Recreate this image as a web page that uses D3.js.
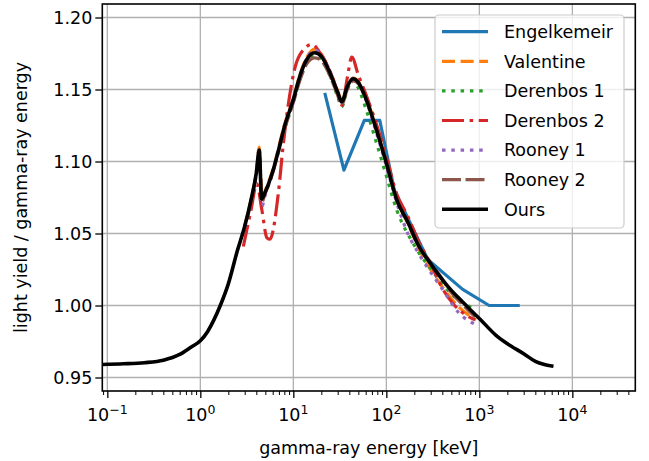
<!DOCTYPE html>
<html>
<head>
<meta charset="utf-8">
<script src="https://cdn.jsdelivr.net/npm/d3@7"></script>
<style>
  body { margin: 0; background: #fff; }
  svg { display: block; }
  text { font-family: "DejaVu Sans", sans-serif; fill: #000; }
</style>
</head>
<body>
<svg id="chart" width="649" height="461"></svg>
<script>
// Relative light yield (per unit gamma-ray energy) versus gamma-ray energy in keV.
const seriesNames = ["Engelkemeir", "Valentine", "Derenbos 1", "Derenbos 2", "Rooney 1", "Rooney 2", "Ours"];

const engelkemeir = [[22,1.1465],[35,1.094],[58,1.1286],[85,1.1286],[122,1.080],[279,1.032],[662,1.0112],[1275,1.000],[2614,1.000]];

const valentine = [[3.0,1.055],[3.5,1.073],[4.0,1.093],[4.3,1.110],[4.6,1.075],[5,1.080],[6,1.094],[8,1.125],[10,1.144],[12,1.162],[14,1.1725],[17,1.178],[20,1.1745],[25,1.162],[30,1.149],[33.2,1.142],[38,1.152],[44,1.158],[50,1.1555],[60,1.145],[80,1.121],[100,1.099],[130,1.073],[170,1.057],[230,1.038],[320,1.022],[410,1.012],[600,0.999],[920,0.990]];

const derenbos1 = [[6,1.093],[7,1.108],[8,1.122],[10,1.141],[12,1.159],[14,1.169],[17,1.174],[20,1.171],[25,1.159],[30,1.145],[33.2,1.138],[38,1.150],[44,1.1565],[50,1.151],[60,1.137],[80,1.111],[100,1.090],[130,1.066],[195,1.043],[320,1.023],[500,1.008],[828,0.9985]];

const derenbos2 = [[2.9,1.041],[3.5,1.066],[4.04,1.0845],[4.6,1.066],[5.2,1.047],[5.6,1.046],[6.9,1.078],[7.8,1.112],[10.4,1.165],[13,1.178],[15.8,1.1813],[20,1.174],[25,1.162],[30,1.148],[33.5,1.139],[38,1.158],[42.5,1.1725],[50,1.160],[60,1.147],[80,1.124],[100,1.103],[130,1.077],[170,1.062],[220,1.045],[300,1.029],[400,1.012],[525,1.001],[732,0.993],[900,0.990]];

const rooney1 = [[3.0,1.054],[3.5,1.072],[4.0,1.091],[4.3,1.106],[4.6,1.069],[5,1.077],[6,1.092],[8,1.123],[10,1.143],[14,1.172],[17,1.1775],[20,1.174],[25,1.162],[30,1.148],[33.2,1.141],[38,1.152],[44,1.158],[50,1.155],[60,1.143],[80,1.118],[100,1.097],[130,1.071],[170,1.050],[230,1.0347],[410,1.0104],[600,0.995],[900,0.987]];

const rooney2 = [[3.2,1.060],[3.5,1.072],[4.0,1.091],[4.3,1.106],[4.6,1.072],[5,1.078],[6,1.092],[8,1.122],[10,1.141],[12,1.158],[14,1.168],[17,1.172],[20,1.170],[25,1.159],[30,1.146],[33.2,1.1395],[38,1.150],[44,1.156],[50,1.154],[60,1.144],[80,1.120],[100,1.099],[130,1.074],[170,1.058],[270,1.033],[375,1.021],[500,1.009],[700,0.999],[900,0.992]];

const ours = [[0.0883,0.9590],[0.15,0.9595],[0.25,0.9603],[0.4,0.9620],[0.6,0.9660],[0.8,0.9712],[1.0,0.9755],[1.2,0.9820],[1.4,0.9900],[1.64,1.000],[2.0,1.015],[2.5,1.038],[3.0,1.055],[3.5,1.073],[4.0,1.092],[4.3,1.108],[4.56,1.074],[5,1.079],[6,1.093],[7,1.109],[8,1.124],[10,1.143],[12,1.161],[14,1.171],[17,1.1755],[20,1.173],[25,1.161],[30,1.148],[33.2,1.1415],[38,1.152],[44,1.1575],[50,1.155],[60,1.144],[80,1.120],[100,1.099],[130,1.073],[170,1.058],[220,1.042],[300,1.029],[400,1.018],[500,1.0105],[662,1.0025],[800,0.997],[1000,0.991],[1500,0.9795],[2000,0.9735],[3000,0.9665],[4000,0.9612],[5000,0.9590],[6000,0.9580]];

const xTickValues = [0.1, 1, 10, 100, 1000, 10000];
const xTickExponents = ["\u22121", "0", "1", "2", "3", "4"];
const yTickValues = [0.95, 1.00, 1.05, 1.10, 1.15, 1.20];
const yTickLabels = ["0.95", "1.00", "1.05", "1.10", "1.15", "1.20"];

const seriesData = [engelkemeir, valentine, derenbos1, derenbos2, rooney1, rooney2, ours];
const seriesColors = ["#1f77b4", "#ff7f0e", "#2ca02c", "#d62728", "#9467bd", "#8c564b", "#000000"];
const seriesDash = [null, "13,5.6", "3.5,5.8", "22,5.6,3.5,5.6", "3.5,5.8", "19,4.5", null];
const seriesWidth = [3.2, 3.2, 3.2, 3.2, 3.2, 3.2, 3.6];
const seriesCurve = [d3.curveLinear, d3.curveMonotoneX, d3.curveMonotoneX, d3.curveMonotoneX, d3.curveMonotoneX, d3.curveMonotoneX, d3.curveMonotoneX];

const svg = d3.select("#chart");
const plot = { left: 102.3, right: 635.3, top: 4, bottom: 391 };

const x = d3.scaleLog()
  .domain([Math.pow(10, -1.054), Math.pow(10, 4.677)])
  .range([plot.left, plot.right]);
const y = d3.scaleLinear()
  .domain([0.940625, 1.209375])
  .range([plot.bottom, plot.top]);

svg.append("defs").append("clipPath").attr("id", "plot-clip")
  .append("rect")
  .attr("x", plot.left).attr("y", plot.top)
  .attr("width", plot.right - plot.left).attr("height", plot.bottom - plot.top);

// grid
const grid = svg.append("g").attr("stroke", "#b0b0b0").attr("stroke-width", 1.3);
xTickValues.forEach(v => {
  grid.append("line").attr("x1", x(v)).attr("x2", x(v)).attr("y1", plot.top).attr("y2", plot.bottom);
});
yTickValues.forEach(v => {
  grid.append("line").attr("x1", plot.left).attr("x2", plot.right).attr("y1", y(v)).attr("y2", y(v));
});

// series lines
const lines = svg.append("g").attr("clip-path", "url(#plot-clip)");
seriesData.forEach((data, i) => {
  const gen = d3.line().x(d => x(d[0])).y(d => y(d[1])).curve(seriesCurve[i]);
  lines.append("path")
    .attr("d", gen(data))
    .attr("fill", "none")
    .attr("stroke", seriesColors[i])
    .attr("stroke-width", seriesWidth[i])
    .attr("stroke-linejoin", "round")
    .attr("stroke-linecap", seriesDash[i] ? "butt" : "square")
    .attr("stroke-dasharray", seriesDash[i]);
});

// axes
const xAxis = svg.append("g").attr("transform", `translate(0,${plot.bottom})`)
  .call(d3.axisBottom(x).tickValues(xTickValues).tickSize(7).tickSizeOuter(0).tickFormat(() => ""));
xAxis.select(".domain").remove();
xAxis.selectAll("line").attr("stroke", "#000").attr("stroke-width", 1.3);

const minorTicks = [];
for (let e = -2; e <= 4; e++) {
  for (let m = 2; m <= 9; m++) {
    const v = m * Math.pow(10, e);
    if (v >= x.domain()[0] && v <= x.domain()[1]) minorTicks.push(v);
  }
}
const xMinor = svg.append("g").attr("transform", `translate(0,${plot.bottom})`)
  .call(d3.axisBottom(x).tickValues(minorTicks).tickSize(4).tickSizeOuter(0).tickFormat(() => ""));
xMinor.select(".domain").remove();
xMinor.selectAll("line").attr("stroke", "#000").attr("stroke-width", 1);

xTickValues.forEach((v, i) => {
  const t = svg.append("text")
    .attr("x", x(v)).attr("y", plot.bottom + 30)
    .attr("text-anchor", "middle")
    .style("font-size", "17.5px");
  t.append("tspan").text("10");
  t.append("tspan").attr("dy", -7).style("font-size", "12.5px").text(xTickExponents[i]);
});

const yAxis = svg.append("g").attr("transform", `translate(${plot.left},0)`)
  .call(d3.axisLeft(y).tickValues(yTickValues).tickSize(7).tickSizeOuter(0).tickFormat((d, i) => yTickLabels[i]));
yAxis.select(".domain").remove();
yAxis.selectAll("line").attr("stroke", "#000").attr("stroke-width", 1.3);
yAxis.selectAll("text").attr("x", -10).style("font-size", "17.5px").style("font-family", "DejaVu Sans, sans-serif");

// frame
svg.append("rect")
  .attr("x", plot.left).attr("y", plot.top)
  .attr("width", plot.right - plot.left).attr("height", plot.bottom - plot.top)
  .attr("fill", "none").attr("stroke", "#000").attr("stroke-width", 1.6);

// axis titles
svg.append("text")
  .attr("x", (plot.left + plot.right) / 2).attr("y", 454)
  .attr("text-anchor", "middle").style("font-size", "17.5px")
  .text("gamma-ray energy [keV]");
svg.append("text")
  .attr("transform", `translate(27,${(plot.top + plot.bottom) / 2}) rotate(-90)`)
  .attr("text-anchor", "middle").style("font-size", "17.5px")
  .text("light yield / gamma-ray energy");

// legend
const legend = svg.append("g");
legend.append("rect")
  .attr("x", 435).attr("y", 15).attr("width", 189).attr("height", 213).attr("rx", 4)
  .attr("fill", "#fff").attr("fill-opacity", 0.8)
  .attr("stroke", "#cccccc").attr("stroke-width", 1.2);
seriesNames.forEach((name, i) => {
  const cy = 31.7 + i * 29.6;
  legend.append("line")
    .attr("x1", 442).attr("x2", 488).attr("y1", cy).attr("y2", cy)
    .attr("stroke", seriesColors[i])
    .attr("stroke-width", seriesWidth[i])
    .attr("stroke-dasharray", seriesDash[i]);
  legend.append("text")
    .attr("x", 504).attr("y", cy).attr("dy", "0.36em")
    .style("font-size", "17.5px")
    .text(name);
});
</script>
</body>
</html>
